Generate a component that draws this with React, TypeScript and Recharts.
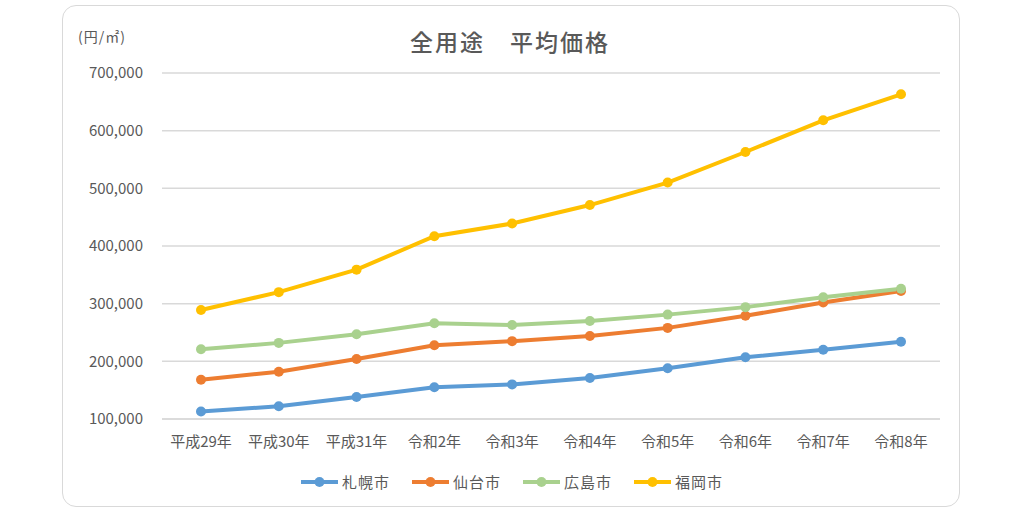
import React from 'react';
import { LineChart, Line, XAxis, YAxis, CartesianGrid, Legend } from 'recharts';

const years = ['平成29年', '平成30年', '平成31年', '令和2年', '令和3年', '令和4年', '令和5年', '令和6年', '令和7年', '令和8年'];

const sapporo = [113000, 122000, 138000, 155000, 160000, 171000, 188000, 207000, 220000, 234000];
const sendai = [168000, 182000, 204000, 228000, 235000, 244000, 258000, 279000, 302000, 322000];
const hiroshima = [221000, 232000, 247000, 266000, 263000, 270000, 281000, 294000, 311000, 326000];
const fukuoka = [289000, 320000, 359000, 417000, 439000, 471000, 510000, 563000, 618000, 663000];

const yTicks = [100000, 200000, 300000, 400000, 500000, 600000, 700000];

const series = [
  { key: 'sapporo', name: '札幌市', color: '#5B9BD5', values: sapporo },
  { key: 'sendai', name: '仙台市', color: '#ED7D31', values: sendai },
  { key: 'hiroshima', name: '広島市', color: '#A9D18E', values: hiroshima },
  { key: 'fukuoka', name: '福岡市', color: '#FFC000', values: fukuoka },
];

const data = years.map((year, i) => {
  const row: Record<string, string | number> = { year };
  series.forEach((s) => {
    row[s.key] = s.values[i];
  });
  return row;
});

const FONT = "'Noto Sans CJK JP', 'Noto Sans', sans-serif";
const TEXT = '#595959';

// legend: line + dot icon, like Excel
const LegendContent = () => (
  <div style={{ display: 'flex', justifyContent: 'center', alignItems: 'center', fontFamily: FONT, fontSize: 15, color: TEXT }}>
    {series.map((s) => (
      <div key={s.key} style={{ display: 'flex', alignItems: 'center', margin: '0 11px' }}>
        <svg width={37} height={14} style={{ marginRight: 4 }}>
          <line x1={0} y1={7} x2={37} y2={7} stroke={s.color} strokeWidth={4} />
          <circle cx={18.5} cy={7} r={5} fill={s.color} />
        </svg>
        <span style={{ letterSpacing: 1 }}>{s.name}</span>
      </div>
    ))}
  </div>
);

export default function App() {
  return (
    <div style={{ position: 'absolute', left: 0, top: 0, width: 1024, height: 515, background: '#fff', fontFamily: FONT }}>
      <div
        style={{
          position: 'absolute',
          left: 62,
          top: 5,
          width: 896,
          height: 500,
          border: '1.5px solid #d9d9d9',
          borderRadius: 14,
        }}
      />
      <div style={{ position: 'absolute', left: 0, top: 24, width: 1020, textAlign: 'center', fontSize: 23, letterSpacing: 2, color: TEXT, fontWeight: 500 }}>
        全用途　平均価格
      </div>
      <div style={{ position: 'absolute', left: 78, top: 26, fontSize: 14, letterSpacing: 1, color: TEXT }}>(円/㎡)</div>
      <div style={{ position: 'absolute', left: 0, top: 0 }}>
        <LineChart width={1024} height={515} data={data} margin={{ top: 73, right: 84, bottom: 46, left: 0 }}>
          <CartesianGrid vertical={false} stroke="#d9d9d9" strokeWidth={1.5} />
          <XAxis
            dataKey="year"
            height={30}
            padding={{ left: 39, right: 39 }}
            axisLine={{ stroke: '#d9d9d9', strokeWidth: 1.5 }}
            tickLine={false}
            tick={{ fill: TEXT, fontSize: 15, fontFamily: FONT }}
            tickMargin={11}
            interval={0}
          />
          <YAxis
            width={162}
            domain={[100000, 700000]}
            ticks={yTicks}
            axisLine={false}
            tickLine={false}
            tickSize={0}
            tickMargin={19}
            tick={{ fill: TEXT, fontSize: 15, fontFamily: FONT }}
            tickFormatter={(v: number) => v.toLocaleString('en-US')}
          />
          <Legend
            verticalAlign="bottom"
            content={<LegendContent />}
            wrapperStyle={{ position: 'absolute', left: 0, top: 471, width: 1024, height: 20 }}
          />
          {series.map((s) => (
            <Line
              key={s.key}
              dataKey={s.key}
              name={s.name}
              stroke={s.color}
              strokeWidth={4}
              dot={{ r: 5, fill: s.color, stroke: s.color, strokeWidth: 0 }}
              activeDot={false}
              isAnimationActive={false}
            />
          ))}
        </LineChart>
      </div>
    </div>
  );
}
